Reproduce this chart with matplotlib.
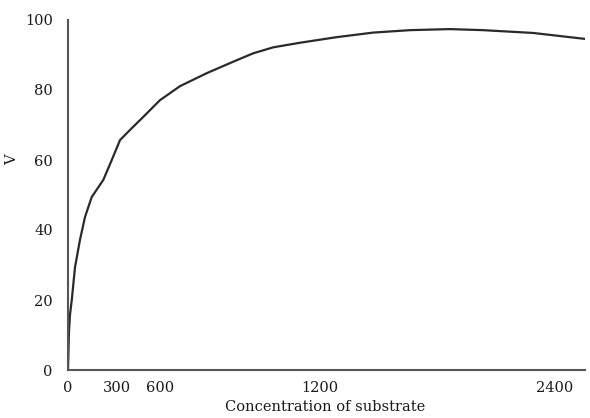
import numpy as np
import matplotlib
matplotlib.use("Agg")
import matplotlib.pyplot as plt

# values
conc = [0, 3, 6, 12, 23, 43, 73, 104, 145, 216, 268, 321, 391, 483, 600,
        675, 775, 875, 950, 1025, 1125, 1285, 1471, 1660, 1864, 2032,
        2288, 2553]
v = [0, 5.7, 10.9, 15.7, 20.0, 29.4, 37.1, 43.7, 49.4, 54.3, 60.0, 65.7,
     68.6, 72.3, 77.1, 81.1, 84.8, 88.1, 90.5, 92.2, 93.5, 95.1, 96.4,
     97.1, 97.4, 97.1, 96.3, 94.6]
xtick_vals = [0, 300, 600, 1200, 2400]
ytick_vals = [0, 20, 40, 60, 80, 100]

# the printed x axis is not evenly spaced, so use a piecewise scale
c_anchor = [-300, 0, 300, 600, 1200, 2400, 3600]
p_anchor = [19, 68, 117, 160, 320, 555, 790]

def fwd(x):
    return np.interp(x, c_anchor, p_anchor)

def inv(p):
    return np.interp(p, p_anchor, c_anchor)

plt.rcParams['font.family'] = ['DejaVu Serif']

fig = plt.figure(figsize=(5.9, 4.18), dpi=100)
ax = fig.add_axes([68/590, 48/418, 517/590, 350/418])
ax.set_xscale('function', functions=(fwd, inv))

ax.plot(conc, v, color='#2a2a2a', lw=1.6, solid_capstyle='round',
        solid_joinstyle='round')

ax.set_xlim(0, 2553)
ax.set_ylim(0, 100)
ax.set_xticks(xtick_vals)
ax.set_xticklabels([str(t) for t in xtick_vals])
ax.set_yticks(ytick_vals)
ax.tick_params(length=0, labelsize=10.5, colors='#1a1a1a')
ax.tick_params(axis='x', pad=8)
ax.tick_params(axis='y', pad=11)
ax.minorticks_off()

for s in ['top', 'right']:
    ax.spines[s].set_visible(False)
for s in ['left', 'bottom']:
    ax.spines[s].set_color('#555555')
    ax.spines[s].set_linewidth(1.5)

ax.set_xlabel('Concentration of substrate', fontsize=10.5, color='#1a1a1a')
ax.xaxis.set_label_coords(0.497, -0.086)
ax.set_ylabel('V', fontsize=10.5, color='#1a1a1a')
ax.yaxis.set_label_coords(-0.094, 0.60)

fig.savefig('out.png', dpi=100)
